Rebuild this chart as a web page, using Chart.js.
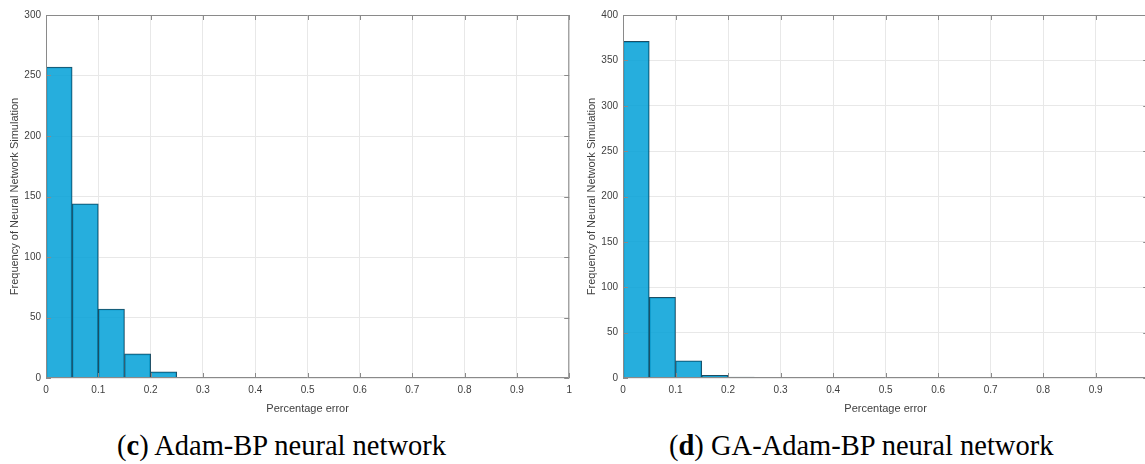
<!DOCTYPE html>
<html lang="en">
<head>
    <meta charset="UTF-8">
    <title>Percentage error histograms</title>
    <style>
        body {
            margin: 0;
            width: 1145px;
            height: 464px;
            overflow: hidden;
            background: #fff;
            position: relative;
        }
        .plot {
            position: absolute;
            top: 0;
            height: 420px;
        }
        #leftBox { left: 0; width: 578px; }
        #rightBox { left: 577px; width: 580px; }
        .caption {
            position: absolute;
            top: 430px;
            font-family: "Liberation Serif", "DejaVu Serif", serif;
            font-size: 28.5px;
            color: #000;
            white-space: nowrap;
        }
        #capC { left: 117px; }
        #capD { left: 669px; }
    </style>
    <script src="https://cdn.jsdelivr.net/npm/chart.js"></script>
</head>
<body>

<div class="plot" id="leftBox"><canvas id="chartC"></canvas></div>
<div class="plot" id="rightBox"><canvas id="chartD"></canvas></div>
<div class="caption" id="capC">(<b>c</b>) Adam-BP neural network</div>
<div class="caption" id="capD">(<b>d</b>) GA-Adam-BP neural network</div>

<script>
    // bin centres (bin width 0.05)
    const binCenters = [0.025, 0.075, 0.125, 0.175, 0.225];
    // frequencies
    const adamBP = [257, 144, 57, 20, 5];
    const gaAdamBP = [371, 89, 19, 3, 1];
    // axis ticks
    const xTicks = [0, 0.1, 0.2, 0.3, 0.4, 0.5, 0.6, 0.7, 0.8, 0.9, 1];
    const yTicksC = [0, 50, 100, 150, 200, 250, 300];
    const yTicksD = [0, 50, 100, 150, 200, 250, 300, 350, 400];

    const textColor = '#404040';
    const gridColor = '#e8e8e8';
    const boxColor = '#8a8a8a';

    // draws the full box and inward tick marks like a MATLAB axes
    const boxPlugin = {
        id: 'boxPlugin',
        afterDatasetsDraw(chart) {
            const ctx = chart.ctx;
            const a = chart.chartArea;
            const xs = chart.scales.x, ys = chart.scales.y;
            ctx.save();
            ctx.strokeStyle = boxColor;
            ctx.lineWidth = 1;
            ctx.beginPath();
            ctx.rect(a.left + 0.5, a.top + 0.5, a.right - a.left - 1, a.bottom - a.top - 1);
            xs.ticks.forEach(t => {
                const px = Math.round(xs.getPixelForValue(t.value)) + 0.5;
                ctx.moveTo(px, a.bottom);
                ctx.lineTo(px, a.bottom - 5);
                ctx.moveTo(px, a.top);
                ctx.lineTo(px, a.top + 5);
            });
            ys.ticks.forEach(t => {
                const py = Math.round(ys.getPixelForValue(t.value)) + 0.5;
                ctx.moveTo(a.left, py);
                ctx.lineTo(a.left + 5, py);
                ctx.moveTo(a.right, py);
                ctx.lineTo(a.right - 5, py);
            });
            ctx.stroke();
            ctx.restore();
        }
    };

    function makeChart(id, values, yMax, yTicks) {
        const ctx = document.getElementById(id).getContext('2d');
        return new Chart(ctx, {
            type: 'bar',
            data: {
                datasets: [{
                    data: binCenters.map((c, i) => ({ x: c, y: values[i] })),
                    backgroundColor: 'rgba(0, 160, 215, 0.85)',
                    borderColor: '#1c4d63',
                    borderWidth: 1,
                    barPercentage: 1,
                    categoryPercentage: 1
                }]
            },
            options: {
                responsive: true,
                maintainAspectRatio: false,
                animation: false,
                layout: { padding: { top: 15, right: 6, left: 0, bottom: 0 } },
                plugins: { legend: { display: false }, tooltip: { enabled: false } },
                scales: {
                    x: {
                        type: 'linear',
                        min: 0,
                        max: 1,
                        offset: false,
                        afterBuildTicks: s => { s.ticks = xTicks.map(v => ({ value: v })); },
                        ticks: {
                            color: textColor,
                            font: { family: 'Liberation Sans, Arial', size: 10 },
                            padding: 6,
                            maxRotation: 0,
                            callback: v => String(v)
                        },
                        grid: { color: gridColor, drawTicks: false, offset: false },
                        border: { display: false },
                        title: {
                            display: true,
                            text: 'Percentage error',
                            color: textColor,
                            font: { family: 'Liberation Sans, Arial', size: 11 },
                            padding: { top: 4 }
                        },
                        afterFit: s => { s.height = 42; }
                    },
                    y: {
                        min: 0,
                        max: yMax,
                        afterBuildTicks: s => { s.ticks = yTicks.map(v => ({ value: v })); },
                        ticks: {
                            color: textColor,
                            font: { family: 'Liberation Sans, Arial', size: 10 },
                            padding: 5
                        },
                        grid: { color: gridColor, drawTicks: false },
                        border: { display: false },
                        title: {
                            display: true,
                            text: 'Frequency of Neural Network Simulation',
                            color: textColor,
                            font: { family: 'Liberation Sans, Arial', size: 11 },
                            padding: { top: 8, bottom: 0 }
                        },
                        afterFit: s => { s.width = 46; }
                    }
                }
            },
            plugins: [boxPlugin]
        });
    }

    makeChart('chartC', adamBP, 300, yTicksC);
    makeChart('chartD', gaAdamBP, 400, yTicksD);
</script>

</body>
</html>
